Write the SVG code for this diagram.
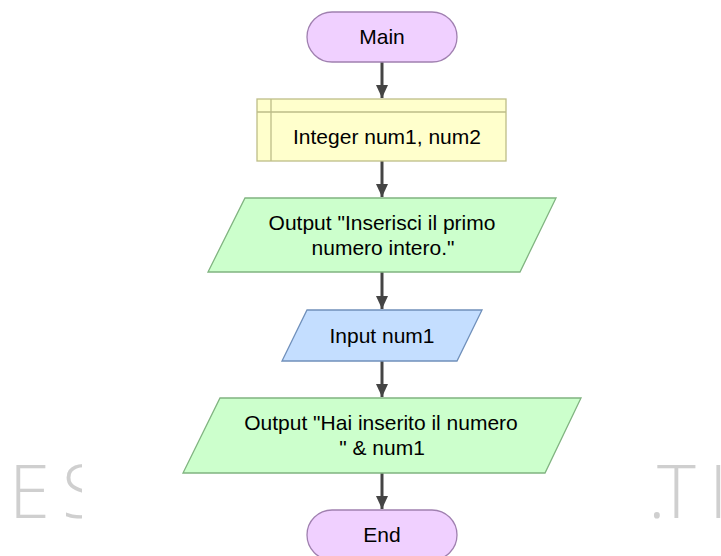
<svg xmlns="http://www.w3.org/2000/svg" width="721" height="556" viewBox="0 0 721 556">
  <defs>
    <style>
      .lbl { font-family: "Liberation Sans", Arial, sans-serif; font-size: 21px; fill: #000; text-anchor: middle; }
      .term { fill: #f0d0ff; stroke: #a080b0; stroke-width: 1.3; }
      .decl { fill: #ffffcc; stroke: #bdbd88; stroke-width: 1.3; }
      .out { fill: #ccffcc; stroke: #80b480; stroke-width: 1.3; }
      .inp { fill: #c4deff; stroke: #7090bb; stroke-width: 1.3; }
      .flow { stroke: #444; stroke-width: 3; fill: none; marker-end: url(#arrow); }
      .mark { font-family: "Open Sans", "Liberation Sans", sans-serif; font-weight: 300; font-size: 74px; fill: #cfcfcf; }
    </style>
    <marker id="arrow" markerWidth="13" markerHeight="12" refX="13" refY="6" orient="auto" markerUnits="userSpaceOnUse">
      <path d="M0,0 L13,6 L0,12 Z" fill="#444"/>
    </marker>
    <clipPath id="leftMark"><rect x="0" y="440" width="82" height="100"/></clipPath>
    <clipPath id="rightMark"><rect x="653" y="440" width="68" height="100"/></clipPath>
  </defs>

  <rect width="721" height="556" fill="#fff"/>

  <!-- faint watermark, visible only at the page edges -->
  <g id="watermark">
    <text class="mark" clip-path="url(#leftMark)" x="9 62" y="518">ES</text>
    <text class="mark" clip-path="url(#rightMark)" x="648 657 709" y="518">.TI</text>
  </g>

  <!-- connectors -->
  <g id="connectors">
    <line class="flow" x1="382" y1="62" x2="382" y2="98"/>
    <line class="flow" x1="382" y1="161" x2="382" y2="197"/>
    <line class="flow" x1="382" y1="272" x2="382" y2="309"/>
    <line class="flow" x1="382" y1="361" x2="382" y2="397"/>
    <line class="flow" x1="382" y1="473" x2="382" y2="509"/>
  </g>

  <g id="main">
    <rect class="term" x="307" y="12" width="150" height="50" rx="25"/>
    <text class="lbl" x="382" y="44">Main</text>
  </g>

  <g id="declare">
    <rect class="decl" x="257" y="99" width="249" height="62"/>
    <line class="decl" x1="271" y1="99" x2="271" y2="161"/>
    <line class="decl" x1="257" y1="112" x2="506" y2="112"/>
    <text class="lbl" x="387" y="144">Integer num1, num2</text>
  </g>

  <g id="output1">
    <polygon class="out" points="245,198 556,198 520,272 208,272"/>
    <text class="lbl" x="382" y="230">Output "Inserisci il primo</text>
    <text class="lbl" x="383" y="255">numero intero."</text>
  </g>

  <g id="input1">
    <polygon class="inp" points="307,310 482,310 457,361 282,361"/>
    <text class="lbl" x="382" y="343">Input num1</text>
  </g>

  <g id="output2">
    <polygon class="out" points="220,398 581,398 545,473 183,473"/>
    <text class="lbl" x="381" y="430">Output "Hai inserito il numero</text>
    <text class="lbl" x="382" y="455">" &amp; num1</text>
  </g>

  <g id="end">
    <rect class="term" x="307" y="510" width="150" height="50" rx="25"/>
    <text class="lbl" x="382" y="542">End</text>
  </g>
</svg>
